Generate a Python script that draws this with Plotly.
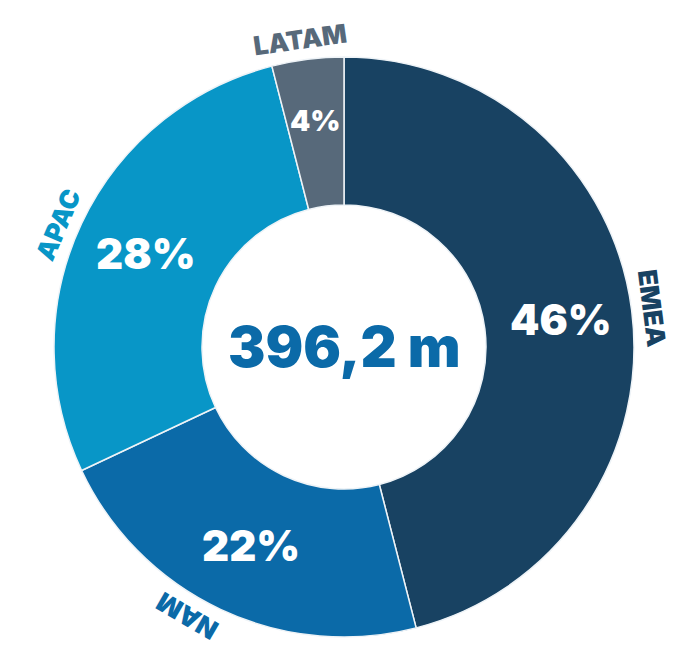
import math
import plotly.graph_objects as go

# data
regions = ["EMEA", "NAM", "APAC", "LATAM"]
shares = [46, 22, 28, 4]
colors = ["#184262", "#0b6aa8", "#0896c7", "#57697a"]
total_label = "396,2 m"

W, H = 675, 645
cx, cy = 344, 347          # donut centre in px
r_out, r_in = 290, 142     # outer / hole radius in px
# small angular nudges (deg) for the outer region names
name_nudge = {"EMEA": 0, "NAM": 5, "APAC": -2, "LATAM": -1}

FONT = "Inter"

fig = go.Figure(go.Pie(
    labels=regions,
    values=shares,
    sort=False,
    direction="clockwise",
    rotation=0,
    hole=r_in / r_out,
    marker=dict(colors=colors, line=dict(color="#eef3f7", width=1.5)),
    textinfo="none",
    hoverinfo="label+percent",
    showlegend=False,
    domain=dict(x=[(cx - r_out) / W, (cx + r_out) / W],
                y=[1 - (cy + r_out) / H, 1 - (cy - r_out) / H]),
))


def to_paper(angle_deg, r):
    a = math.radians(angle_deg)
    px = cx + r * math.sin(a)
    py = cy - r * math.cos(a)
    return px / W, 1 - py / H


annotations = []
tot = sum(shares)
cum = 0
for name, v, c in zip(regions, shares, colors):
    mid = (cum + v / 2) / tot * 360
    cum += v
    # percentage inside the ring
    x, y = to_paper(mid, 219 if v > 10 else 228)
    annotations.append(dict(
        x=x, y=y, xref="paper", yref="paper", showarrow=False,
        text=f"{v}%", xanchor="center", yanchor="middle",
        font=dict(family=FONT, size=42 if v > 10 else 29, color="white", weight=900),
    ))
    # region name outside the ring, following the circle
    a = mid + name_nudge[name]
    x, y = to_paper(a, r_out + 21)
    ang = a if a <= 180 else a - 360
    annotations.append(dict(
        x=x, y=y, xref="paper", yref="paper", showarrow=False,
        text=name, xanchor="center", yanchor="middle", textangle=ang,
        font=dict(family=FONT, size=26, color=c, weight=900),
    ))

annotations.append(dict(
    x=cx / W, y=1 - cy / H, xref="paper", yref="paper", showarrow=False,
    text=total_label, xanchor="center", yanchor="middle",
    font=dict(family=FONT, size=56, color="#0b6aa8", weight=900),
))

fig.update_layout(
    width=W, height=H,
    margin=dict(l=0, r=0, t=0, b=0),
    paper_bgcolor="white",
    plot_bgcolor="white",
    annotations=annotations,
)

fig.write_html("out.html", config={"displayModeBar": False},
               post_script="document.body.style.margin='0';")
